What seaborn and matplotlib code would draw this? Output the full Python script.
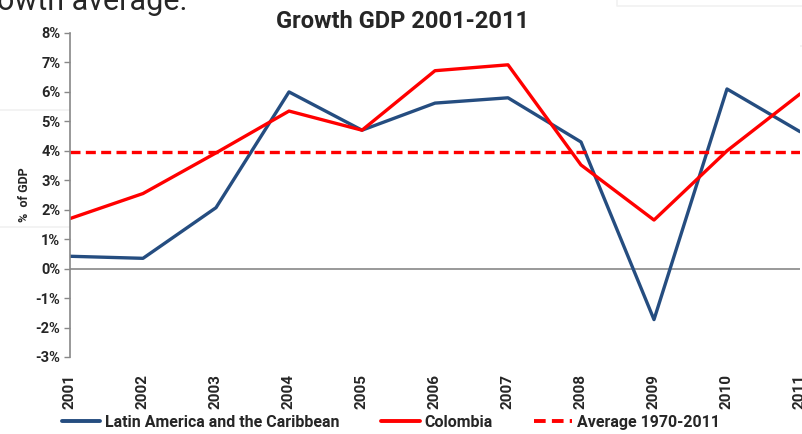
import matplotlib
matplotlib.use("Agg")
import matplotlib.pyplot as plt
import seaborn as sns
import pandas as pd
from matplotlib.lines import Line2D
from matplotlib.ticker import FuncFormatter

years = list(range(2001, 2012))
lac = [0.42, 0.35, 2.07, 6.0, 4.7, 5.62, 5.8, 4.3, -1.73, 6.1, 4.65]
colombia = [1.7, 2.55, 3.93, 5.35, 4.7, 6.72, 6.92, 3.52, 1.65, 4.0, 5.93]
average = [3.95] * len(years)

sns.set_theme(style="white")
plt.rcParams['font.family'] = ['Roboto', 'DejaVu Sans']
plt.rcParams['font.weight'] = 'bold'

df = pd.DataFrame({
    "year": years * 3,
    "value": lac + colombia + average,
    "series": (["Latin America and the Caribbean"] * len(years)
               + ["Colombia"] * len(years)
               + ["Average 1970-2011"] * len(years)),
})

W, H = 803, 434
fig = plt.figure(figsize=(W / 100, H / 100), dpi=100)
ax = fig.add_axes([70 / W, 1 - 357 / H, 730 / W, (357 - 33) / H])

# faint background slide outlines
def px_line(xs, ys):
    fig.add_artist(Line2D([x / W for x in xs], [1 - y / H for y in ys],
                          transform=fig.transFigure, color="#f1f1f1", lw=1.2, zorder=0))

px_line([0, 205, 205, 803], [110, 110, 46, 46])
px_line([0, 87, 87], [227, 227, 302])
px_line([617, 617, 803], [0, 6, 6])

palette = {"Latin America and the Caribbean": "#254D80",
           "Colombia": "#FF0000",
           "Average 1970-2011": "#FF0000"}
dashes = {"Latin America and the Caribbean": "",
          "Colombia": "",
          "Average 1970-2011": (3, 1.6)}
sns.lineplot(data=df, x="year", y="value", hue="series", style="series",
             palette=palette, dashes=dashes, linewidth=2.4, ax=ax, legend=False)

ax.set_xlim(2001, 2011)
ax.set_ylim(-3, 8)
ax.set_yticks(range(-3, 9))
ax.yaxis.set_major_formatter(FuncFormatter(lambda v, p: f"{int(v)}%"))
ax.set_xticks(years)
ax.set_xticklabels([str(y) for y in years], rotation=90)
ax.tick_params(axis="y", length=4, width=1, color="#888888", direction="out",
               pad=3, left=True, labelsize=10.5)
ax.tick_params(axis="x", length=0, pad=12, labelsize=11)
for t in ax.get_xticklabels() + ax.get_yticklabels():
    t.set_fontweight("bold")

for s in ["top", "right", "bottom"]:
    ax.spines[s].set_visible(False)
ax.spines["left"].set_color("#888888")
ax.spines["left"].set_linewidth(1.2)
ax.axhline(0, color="#888888", lw=1.2, zorder=1)

ax.set_xlabel("")
ax.set_ylabel("%  of GDP", fontweight="bold", fontsize=9, labelpad=3)

fig.text(403 / W, 1 - 22 / H, "Growth GDP 2001-2011", fontweight="bold",
         fontsize=17, ha="center", va="center")

fig.text(-0.004, 1.03, "owth average.", fontsize=22, fontweight="normal", va="top", ha="left")

handles = [Line2D([], [], color="#254D80", lw=2.8),
           Line2D([], [], color="#FF0000", lw=2.8),
           Line2D([], [], color="#FF0000", lw=2.8, dashes=(3, 1.6))]
labels = ["Latin America and the Caribbean", "Colombia", "Average 1970-2011"]
fig.legend(handles, labels, loc="center", bbox_to_anchor=(0.487, 0.027), ncol=3,
           frameon=False, prop={"weight": "bold", "size": 11.5},
           handlelength=2.4, handletextpad=0.3, columnspacing=2.6)

fig.savefig("out.png", dpi=100)
